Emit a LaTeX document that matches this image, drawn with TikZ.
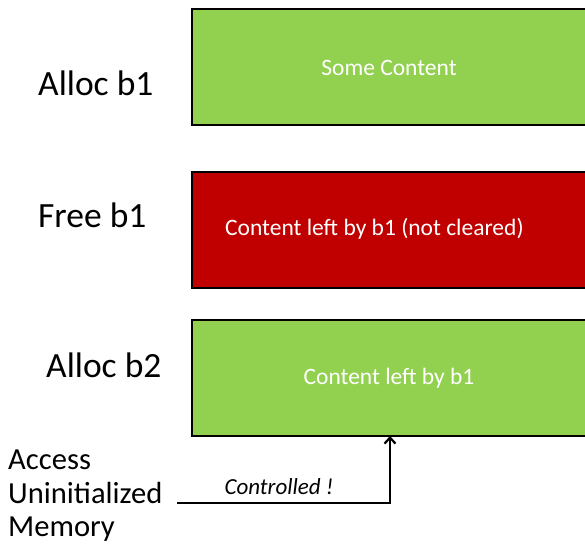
\documentclass[tikz,border=0pt]{standalone}
\usepackage{fontspec}
\setmainfont{Carlito}
\usetikzlibrary{arrows.meta}
\definecolor{boxgreen}{HTML}{92D050}
\definecolor{boxred}{HTML}{C00000}
\tikzset{
  memblock/.style={draw=black, line width=2.4pt, minimum width=420pt, minimum height=116pt, anchor=north west, inner sep=0pt},
  boxtext/.style={text=white, font=\fontsize{23.5}{28}\selectfont, inner sep=0pt},
  steplabel/.style={font=\fontsize{35.5}{40}\selectfont, inner sep=0pt, anchor=west},
  sidelabel/.style={font=\fontsize{30.6}{33.5}\selectfont, inner sep=0pt, anchor=west, align=left},
  link/.style={line width=2.4pt, -{Straight Barb[length=6pt,width=11pt,line width=2.2pt]}}
}
\begin{document}
\begin{tikzpicture}[x=1pt,y=-1pt]
\useasboundingbox (0,0) rectangle (585,550);
\node[memblock, fill=boxgreen] (b1) at (191,8) {};
\node[memblock, fill=boxred] (f1) at (191,171) {};
\node[memblock, fill=boxgreen] (b2) at (191,319) {};
\node[boxtext] (t1) at (389,68) {Some Content};
\node[boxtext, anchor=west] (t2) at (225,229) {Content left by b1 (not cleared)};
\node[boxtext] (t3) at (389,378) {Content left by b1};
\node[steplabel] (l1) at (38,83) {Alloc b1};
\node[steplabel] (l2) at (38,215) {Free b1};
\node[steplabel] (l3) at (46,365) {Alloc b2};
\node[sidelabel] (acc) at (8,496) {Access\\Uninitialized\\Memory};
\coordinate (start) at (177,503);
\coordinate (corner) at (390,503);
\coordinate (tip) at (390,436);
\draw[link] (start) -- (corner) -- (tip);
\node[font=\itshape\fontsize{23}{27}\selectfont, inner sep=0pt] (ctl) at (279,487) {Controlled !};
\end{tikzpicture}
\end{document}
